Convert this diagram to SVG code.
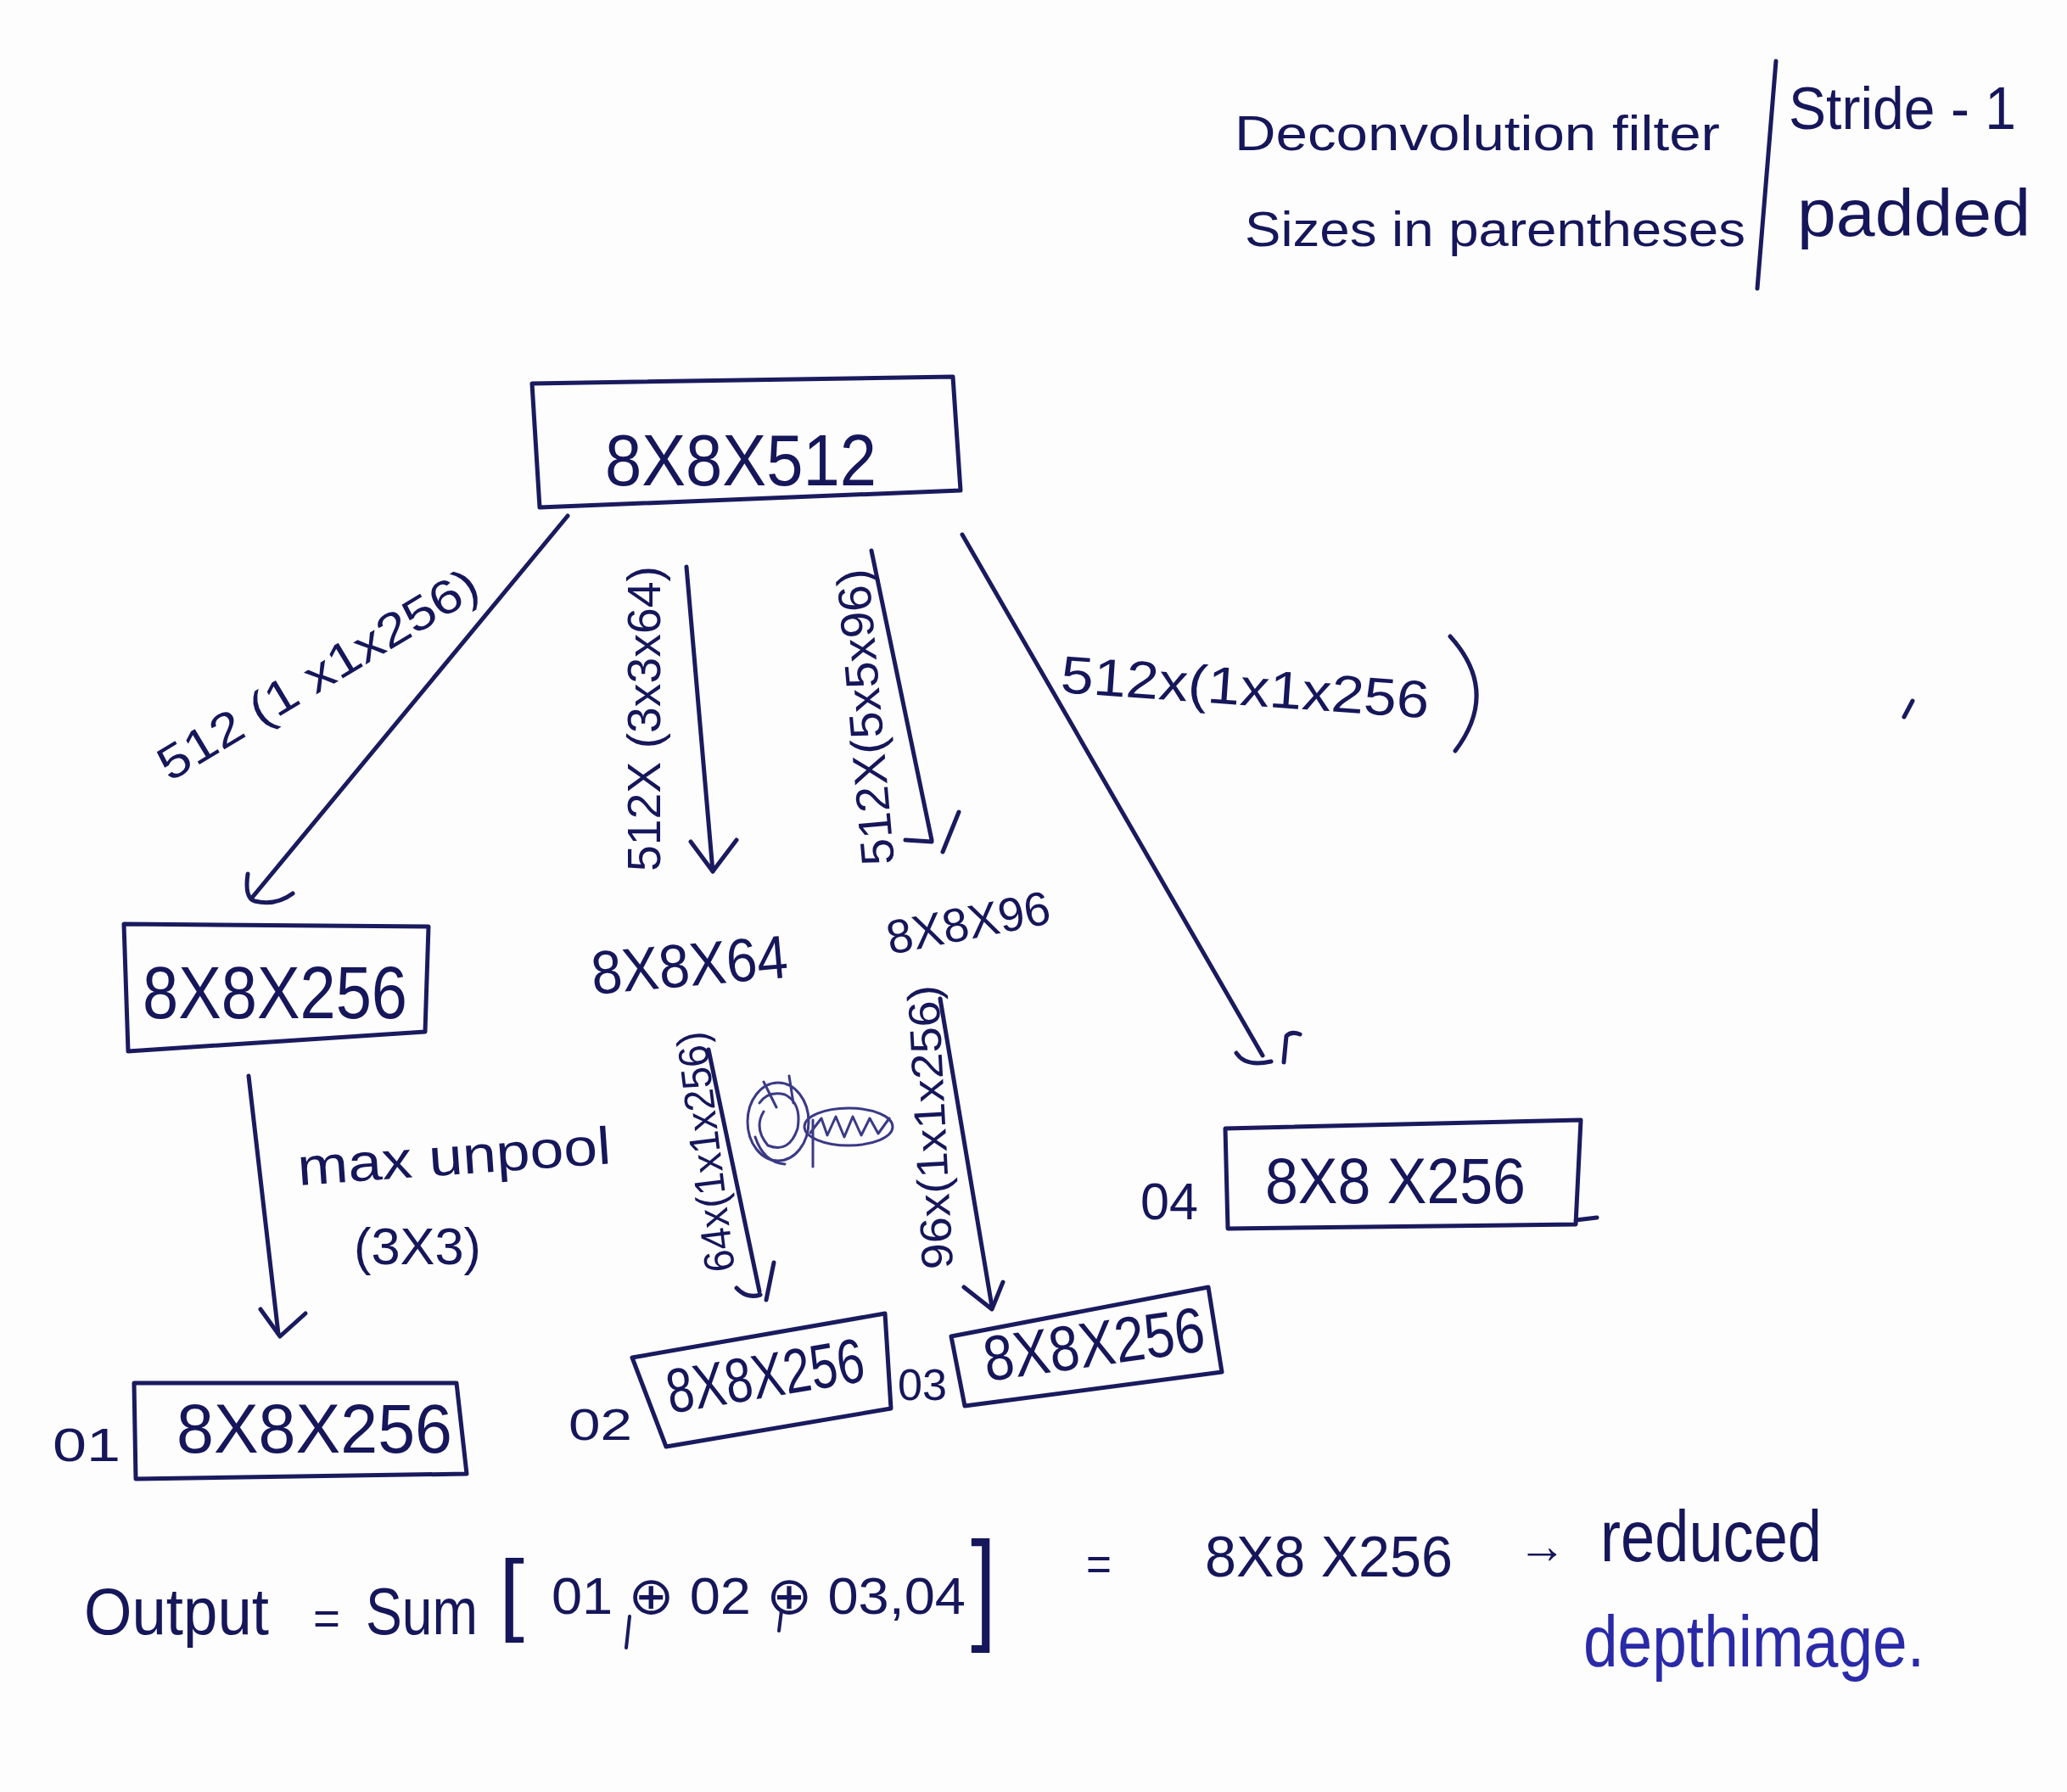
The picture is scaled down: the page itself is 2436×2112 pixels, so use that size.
<svg xmlns="http://www.w3.org/2000/svg" width="2436" height="2112" viewBox="0 0 2436 2112">
<style>
.s{fill:none;stroke:#1a1a5e;stroke-width:5;stroke-linecap:round;stroke-linejoin:round}
.f{fill:none;stroke:#3a3a86;stroke-width:3;stroke-linecap:round;stroke-linejoin:round}
.t{font-family:"Liberation Sans","DejaVu Sans",sans-serif;fill:#16165a}
.b{fill:#2a2aa8}
</style>
<rect width="2436" height="2112" fill="#fdfdfd"/>

<g id="legend">
<text class="t" x="1455" y="177" font-size="58" textLength="572" lengthAdjust="spacingAndGlyphs">Deconvolution filter</text>
<text class="t" x="1467" y="290" font-size="58" textLength="590" lengthAdjust="spacingAndGlyphs">Sizes in parentheses</text>
<path class="s" d="M2093,72 L2071,340"/>
<text class="t" x="2108" y="152" font-size="70" textLength="268" lengthAdjust="spacingAndGlyphs">Stride - 1</text>
<text class="t" x="2118" y="278" font-size="78" textLength="275" lengthAdjust="spacingAndGlyphs">padded</text>
</g>

<g id="connectors">
<!-- to left box -->
<path class="s" d="M669,608 L297,1058"/>
<path class="s" d="M292,1030 Q288,1058 300,1062 Q325,1068 345,1053"/>
<text class="t" x="200" y="922" font-size="56" textLength="430" lengthAdjust="spacingAndGlyphs" transform="rotate(-31 200 922)">512 (1 x1x256)</text>
<!-- 3x3x64 -->
<path class="s" d="M809,668 L840,1027"/>
<path class="s" d="M814,992 L840,1027 L868,990"/>
<text class="t" x="778" y="1027" font-size="55" textLength="360" lengthAdjust="spacingAndGlyphs" transform="rotate(-90 778 1027)">512X (3x3x64)</text>
<!-- 5x5x96 -->
<path class="s" d="M1027,649 L1098,990"/>
<path class="s" d="M1067,990 L1098,992 M1130,957 L1111,1004"/>
<text class="t" x="1054" y="1018" font-size="55" textLength="350" lengthAdjust="spacingAndGlyphs" transform="rotate(-95 1054 1018)">512X(5x5x96)</text>
<!-- right diagonal -->
<path class="s" d="M1134,630 L1488,1244"/>
<path class="s" d="M1457,1241 Q1468,1258 1498,1251"/>
<path class="s" d="M1513,1252 L1516,1221 Q1522,1215 1532,1219"/>
<text class="t" x="1249" y="816" font-size="62" textLength="435" lengthAdjust="spacingAndGlyphs" transform="rotate(4 1249 816)">512x(1x1x256</text>
<path class="s" d="M1709,750 Q1768,815 1715,885"/>
<path class="s" d="M2254,826 L2244,845"/>
<!-- max unpool -->
<path class="s" d="M293,1268 L328,1572"/>
<path class="s" d="M307,1543 L330,1575 L360,1548"/>
<text class="t" x="352" y="1397" font-size="62" textLength="370" lengthAdjust="spacingAndGlyphs" transform="rotate(-4 352 1397)">max unpool</text>
<text class="t" x="417" y="1490" font-size="62" textLength="150" lengthAdjust="spacingAndGlyphs">(3X3)</text>
<!-- 64x(1x1x256) -->
<path class="s" d="M835,1237 L895,1522"/>
<path class="s" d="M868,1518 Q880,1531 896,1526 M912,1488 L903,1532"/>
<text class="t" x="866" y="1497" font-size="50" textLength="285" lengthAdjust="spacingAndGlyphs" transform="rotate(-97 866 1497)">64x(1x1x256)</text>
<!-- 96x(1x1x256) -->
<path class="s" d="M1108,1177 L1169,1540"/>
<path class="s" d="M1136,1517 L1169,1543 L1182,1511"/>
<text class="t" x="1123" y="1495" font-size="52" textLength="335" lengthAdjust="spacingAndGlyphs" transform="rotate(-93 1123 1495)">96x(1x1x256)</text>
</g>

<g id="scribble">
<ellipse class="f" cx="917" cy="1322" rx="36" ry="46"/>
<path class="f" d="M895,1300 Q905,1285 925,1290 Q945,1300 940,1330 Q930,1360 905,1350 Q888,1330 900,1310 M890,1340 Q900,1370 925,1372 M900,1275 L915,1305 M930,1268 L935,1300"/>
<ellipse class="f" cx="1000" cy="1328" rx="52" ry="22"/>
<path class="f" d="M955,1335 L968,1318 L975,1338 L985,1316 L995,1340 L1005,1316 L1015,1338 L1025,1318 L1035,1336 L1048,1318 M958,1320 L958,1375"/>
</g>

<g id="n-top">
<path class="s" d="M627,452 L1123,444 L1132,578 L636,598 Z"/>
<text class="t" x="713" y="572" font-size="86" textLength="320" lengthAdjust="spacingAndGlyphs">8X8X512</text>
</g>

<g id="n-left">
<path class="s" d="M146,1089 L505,1092 L501,1216 L151,1239 Z"/>
<text class="t" x="168" y="1200" font-size="88" textLength="312" lengthAdjust="spacingAndGlyphs">8X8X256</text>
</g>

<g id="n-64">
<text class="t" x="699" y="1172" font-size="72" textLength="232" lengthAdjust="spacingAndGlyphs" transform="rotate(-5 699 1172)">8X8X64</text>
</g>

<g id="n-96">
<text class="t" x="1049" y="1125" font-size="56" textLength="195" lengthAdjust="spacingAndGlyphs" transform="rotate(-11 1049 1125)">8X8X96</text>
</g>

<g id="n-o1">
<text class="t" x="62" y="1722" font-size="55" textLength="80" lengthAdjust="spacingAndGlyphs">01</text>
<path class="s" d="M158,1630 L538,1630 L550,1737 L160,1743 Z"/>
<text class="t" x="208" y="1712" font-size="82" textLength="325" lengthAdjust="spacingAndGlyphs">8X8X256</text>
</g>

<g id="n-o2">
<text class="t" x="670" y="1697" font-size="52" textLength="75" lengthAdjust="spacingAndGlyphs">02</text>
<path class="s" d="M745,1600 L1043,1548 L1050,1660 L785,1705 Z"/>
<text class="t" x="790" y="1666" font-size="74" textLength="235" lengthAdjust="spacingAndGlyphs" transform="rotate(-9.5 790 1666)">8X8X256</text>
</g>

<g id="n-o3">
<text class="t" x="1058" y="1650" font-size="52" textLength="58" lengthAdjust="spacingAndGlyphs">03</text>
<path class="s" d="M1121,1575 L1424,1517 L1440,1617 L1137,1657 Z"/>
<text class="t" x="1163" y="1628" font-size="75" textLength="262" lengthAdjust="spacingAndGlyphs" transform="rotate(-8 1163 1628)">8X8X256</text>
</g>

<g id="n-o4">
<text class="t" x="1344" y="1437" font-size="62" textLength="68" lengthAdjust="spacingAndGlyphs">04</text>
<path class="s" d="M1444,1330 L1863,1320 L1857,1443 L1447,1448 Z M1857,1438 L1882,1435"/>
<text class="t" x="1491" y="1418" font-size="76" textLength="307" lengthAdjust="spacingAndGlyphs">8X8 X256</text>
</g>

<g id="equation">
<text class="t" x="99" y="1926" font-size="78" textLength="218" lengthAdjust="spacingAndGlyphs">Output</text>
<text class="t" x="369" y="1926" font-size="55" textLength="32" lengthAdjust="spacingAndGlyphs">=</text>
<text class="t" x="431" y="1926" font-size="78" textLength="132" lengthAdjust="spacingAndGlyphs">Sum</text>
<text class="t" x="588" y="1914" font-size="108" textLength="30" lengthAdjust="spacingAndGlyphs">[</text>
<text class="t" x="650" y="1902" font-size="62" textLength="488" lengthAdjust="spacingAndGlyphs">01 ⊕ 02 ⊕ 03,04</text>
<path class="s" d="M742,1905 L738,1942 M921,1898 L918,1922" style="stroke-width:4"/>
<text class="t" x="1144" y="1918" font-size="145" textLength="30" lengthAdjust="spacingAndGlyphs">]</text>
<text class="t" x="1280" y="1862" font-size="55" textLength="30" lengthAdjust="spacingAndGlyphs">=</text>
<text class="t" x="1420" y="1858" font-size="68" textLength="292" lengthAdjust="spacingAndGlyphs">8X8 X256</text>
<text class="t" x="1789" y="1842" font-size="60" textLength="57" lengthAdjust="spacingAndGlyphs">→</text>
<text class="t" x="1886" y="1840" font-size="85" textLength="261" lengthAdjust="spacingAndGlyphs">reduced</text>
<text class="t b" x="1866" y="1964" font-size="85" textLength="402" lengthAdjust="spacingAndGlyphs">depthimage.</text>
</g>
</svg>
